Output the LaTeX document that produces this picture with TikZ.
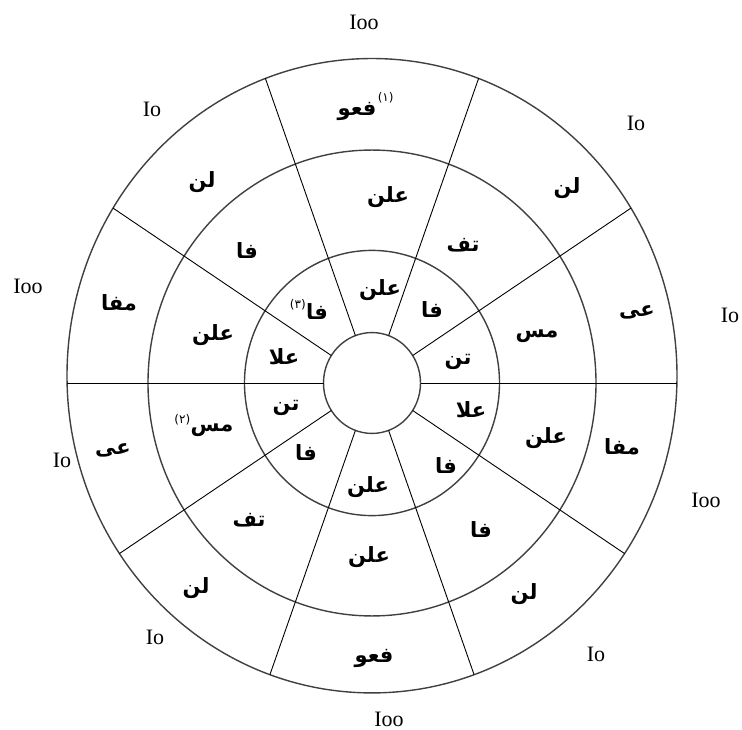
\documentclass[tikz,border=0pt]{standalone}
\usepackage{fontspec}
\setmainfont{Liberation Serif}
\newfontfamily\arabicfont[Script=Arabic]{DejaVu Sans}
\TeXXeTstate=1
\usepackage{tikz}
\usetikzlibrary{positioning}

\newcommand{\arw}[1]{\beginR #1\endR}

\begin{document}
\begin{tikzpicture}[
  x=1pt, y=-1pt,
  ring/.style={draw=black!75, line width=1.4pt},
  spoke/.style={draw=black, line width=0.9pt},
  word/.style={font=\arabicfont\bfseries\fontsize{21}{21}\selectfont, inner sep=0pt},
  note/.style={font=\arabicfont\fontsize{12}{12}\selectfont, inner sep=0pt},
  meter/.style={font=\fontsize{22}{22}\selectfont, inner sep=0pt},
]
\useasboundingbox (0,0) rectangle (742,730);

%--- circles and spokes ---------------------------------------------------
\begin{scope}[shift={(372,383)}, yscale=1.04]
  \foreach \r in {48.5,127.5,224}
    \draw[ring] (0,0) circle[radius=\r];
  \draw[ring] (0,-7) circle[radius=305];
  \begin{scope}
    \clip (0,-7) circle[radius=305];
    \foreach \a in {0,33,70,110,147,180,213,250,290,327}
      \draw[spoke] (\a:48.5) -- (\a:340);
  \end{scope}
\end{scope}

%--- outer ring -----------------------------------------------------------
\node[word] (oTop) at (357,111) {\arw{فعو}};
\node[note, above right=-2pt and 1pt of oTop] (oTopN) {(١)};
\node[word] (oUR)  at (567,188) {\arw{لن}};
\node[word] (oR1)  at (637,312) {\arw{عی}};
\node[word] (oR2)  at (622,447) {\arw{مفا}};
\node[word] (oLR)  at (524,594) {\arw{لن}};
\node[word] (oBot) at (374,658) {\arw{فعو}};
\node[word] (oLL)  at (196,588) {\arw{لن}};
\node[word] (oL1)  at (113,450) {\arw{عی}};
\node[word] (oL2)  at (119,303) {\arw{مفا}};
\node[word] (oUL)  at (202,182) {\arw{لن}};

%--- middle ring ----------------------------------------------------------
\node[word] (mTop) at (388,197) {\arw{علن}};
\node[word] (mUR)  at (463,245) {\arw{تف}};
\node[word] (mR1)  at (537,336) {\arw{مس}};
\node[word] (mR2)  at (546,438) {\arw{علن}};
\node[word] (mLR)  at (481,530) {\arw{فا}};
\node[word] (mBot) at (369,557) {\arw{علن}};
\node[word] (mLL)  at (249,520) {\arw{تف}};
\node[word] (mL1)  at (212,430) {\arw{مس}};
\node[note, above left=-2pt and 0pt of mL1] (mL1N) {(٢)};
\node[word] (mL2)  at (213,335) {\arw{علن}};
\node[word] (mUL)  at (247,251) {\arw{فا}};

%--- inner ring -----------------------------------------------------------
\node[word] (iTop) at (380,290) {\arw{علن}};
\node[word] (iUR)  at (432,310) {\arw{فا}};
\node[word] (iR1)  at (458,362) {\arw{تن}};
\node[word] (iR2)  at (471,410) {\arw{علا}};
\node[word] (iLR)  at (446,466) {\arw{فا}};
\node[word] (iBot) at (368,487) {\arw{علن}};
\node[word] (iLL)  at (306,453) {\arw{فا}};
\node[word] (iL1)  at (286,408) {\arw{تن}};
\node[word] (iL2)  at (284,357) {\arw{علا}};
\node[word] (iUL)  at (317,312) {\arw{فا}};
\node[note, above left=-6pt and 0pt of iUL] (iULN) {(٣)};

%--- stress marks round the outside ---------------------------------------
\node[meter] (sTop) at (364,22)  {Ioo};
\node[meter] (sUL)  at (152,109) {Io};
\node[meter] (sUR)  at (636,123) {Io};
\node[meter] (sL2)  at (28,286)  {Ioo};
\node[meter] (sR1)  at (730,315) {Io};
\node[meter] (sL1)  at (62,460)  {Io};
\node[meter] (sR2)  at (706,500) {Ioo};
\node[meter] (sLL)  at (155,637) {Io};
\node[meter] (sLR)  at (596,654) {Io};
\node[meter] (sBot) at (389,719) {Ioo};

\end{tikzpicture}
\end{document}
